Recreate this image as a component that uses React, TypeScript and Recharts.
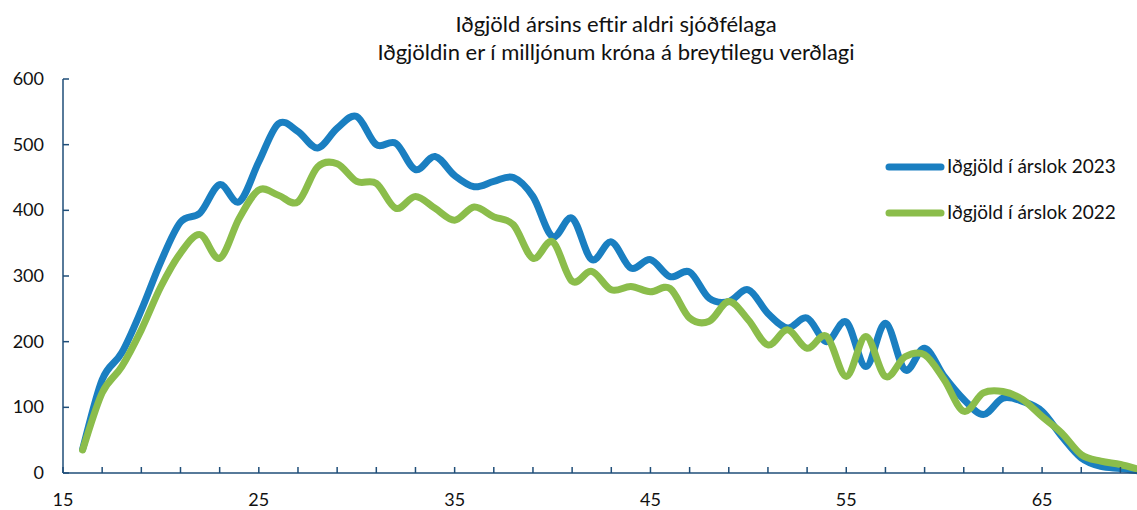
import React from 'react';
import { LineChart, Line, XAxis, YAxis } from 'recharts';

const ages = [
    16, 17, 18, 19, 20, 21, 22, 23, 24, 25, 26, 27, 28, 29, 30, 31, 32, 33, 34, 35,
    36, 37, 38, 39, 40, 41, 42, 43, 44, 45, 46, 47, 48, 49, 50, 51, 52, 53, 54, 55,
    56, 57, 58, 59, 60, 61, 62, 63, 64, 65, 66, 67, 68, 69, 70,
];

const idgjold2023 = [
    36, 142, 183, 248, 322, 382, 396, 439, 413, 474, 532, 520, 495, 525, 543, 500, 502, 462, 482, 453,
    436, 444, 450, 421, 360, 388, 325, 352, 312, 325, 299, 306, 266, 261, 279, 243, 221, 236, 200, 230,
    162, 228, 157, 190, 147, 112, 89, 114, 109, 94, 56, 23, 10, 7, 3,
];

const idgjold2022 = [
    35, 122, 162, 218, 284, 335, 363, 327, 388, 431, 423, 413, 466, 471, 444, 441, 403, 421, 403, 385,
    405, 390, 378, 327, 352, 292, 307, 279, 284, 276, 281, 236, 231, 261, 233, 195, 218, 190, 208, 147,
    208, 147, 177, 180, 142, 94, 122, 124, 112, 86, 61, 28, 18, 13, 5,
];

const xTicks = [15, 17, 19, 21, 23, 25, 27, 29, 31, 33, 35, 37, 39, 41, 43, 45, 47, 49, 51, 53, 55, 57, 59, 61, 63, 65, 67, 69];
const xLabels = [15, 25, 35, 45, 55, 65];
const yTicks = [0, 100, 200, 300, 400, 500, 600];

const titleLines = ['Iðgjöld ársins eftir aldri sjóðfélaga', 'Iðgjöldin er í milljónum króna á breytilegu verðlagi'];

const BLUE = '#1a7fc1';
const GREEN = '#8bbd4b';
const AXIS = '#1f4e79';
const FONT = 'Lato, sans-serif';

const data = ages.map((age, i) => ({
    age,
    y2023: idgjold2023[i],
    y2022: idgjold2022[i],
}));

const legendItems = [
    { label: 'Iðgjöld í árslok 2023', color: BLUE },
    { label: 'Iðgjöld í árslok 2022', color: GREEN },
];

// Excel-like smoothed line (Catmull-Rom through every point)
const excelSmooth = (context: any) => {
    let pts: number[][] = [];
    return {
        areaStart() {},
        areaEnd() {},
        lineStart() {
            pts = [];
        },
        point(x: number, y: number) {
            pts.push([+x, +y]);
        },
        lineEnd() {
            if (!pts.length) return;
            context.moveTo(pts[0][0], pts[0][1]);
            for (let i = 0; i < pts.length - 1; i++) {
                const p0 = pts[i - 1] || pts[i];
                const p1 = pts[i];
                const p2 = pts[i + 1];
                const p3 = pts[i + 2] || p2;
                context.bezierCurveTo(
                    p1[0] + (p2[0] - p0[0]) / 6,
                    p1[1] + (p2[1] - p0[1]) / 6,
                    p2[0] - (p3[0] - p1[0]) / 6,
                    p2[1] - (p3[1] - p1[1]) / 6,
                    p2[0],
                    p2[1]
                );
            }
        },
    };
};

const XTick = (props: any) => {
    const { x, y, payload } = props;
    return (
        <g>
            <line x1={x} y1={y} x2={x} y2={y - 6} stroke={AXIS} strokeWidth={1.5} />
            {xLabels.includes(payload.value) && (
                <text x={x} y={y + 33} textAnchor="middle" fontSize={18} fontFamily={FONT} fill="#111">
                    {payload.value}
                </text>
            )}
        </g>
    );
};

const YTick = (props: any) => {
    const { x, y, payload } = props;
    return (
        <g>
            <line x1={x} y1={y} x2={x + 6} y2={y} stroke={AXIS} strokeWidth={1.5} />
            <text x={x - 19} y={y + 6} textAnchor="end" fontSize={18} fontFamily={FONT} fill="#111">
                {payload.value}
            </text>
        </g>
    );
};

export default function App() {
    return (
        <div style={{ position: 'absolute', left: 0, top: 0, width: 1137, height: 510, overflow: 'hidden', background: '#fff' }}>
            <svg style={{ position: 'absolute', left: 0, top: 0 }} width={1137} height={70}>
                {titleLines.map((t, i) => (
                    <text key={t} x={616} y={32 + i * 28} textAnchor="middle" fontSize={22} fontFamily={FONT} fill="#111">
                        {t}
                    </text>
                ))}
            </svg>
            <LineChart
                width={1141}
                height={510}
                data={data}
                margin={{ top: 79, right: 1, left: 0, bottom: 0 }}
                style={{ position: 'absolute', left: 0, top: 0 }}
            >
                <XAxis
                    dataKey="age"
                    type="number"
                    domain={[15, 70]}
                    ticks={xTicks}
                    interval={0}
                    height={37}
                    tickSize={0}
                    tickMargin={0}
                    tickLine={false}
                    axisLine={{ stroke: AXIS, strokeWidth: 1.5 }}
                    tick={<XTick />}
                    allowDataOverflow
                />
                <YAxis
                    domain={[0, 600]}
                    ticks={yTicks}
                    interval={0}
                    width={63}
                    tickSize={0}
                    tickMargin={0}
                    tickLine={false}
                    axisLine={{ stroke: AXIS, strokeWidth: 1.5 }}
                    tick={<YTick />}
                />
                <Line
                    type={excelSmooth as any}
                    dataKey="y2023"
                    name="Iðgjöld í árslok 2023"
                    stroke={BLUE}
                    strokeWidth={7}
                    strokeLinecap="round"
                    strokeLinejoin="round"
                    dot={false}
                    activeDot={false}
                    isAnimationActive={false}
                />
                <Line
                    type={excelSmooth as any}
                    dataKey="y2022"
                    name="Iðgjöld í árslok 2022"
                    stroke={GREEN}
                    strokeWidth={7}
                    strokeLinecap="round"
                    strokeLinejoin="round"
                    dot={false}
                    activeDot={false}
                    isAnimationActive={false}
                />
            </LineChart>
            <svg style={{ position: 'absolute', left: 880, top: 140 }} width={257} height={100}>
                {legendItems.map((item, i) => (
                    <g key={item.label}>
                        <line x1={9} y1={27 + i * 46} x2={61} y2={27 + i * 46} stroke={item.color} strokeWidth={7} strokeLinecap="round" />
                        <text x={67} y={33 + i * 46} fontSize={19} fontFamily={FONT} fill="#111">
                            {item.label}
                        </text>
                    </g>
                ))}
            </svg>
        </div>
    );
}
